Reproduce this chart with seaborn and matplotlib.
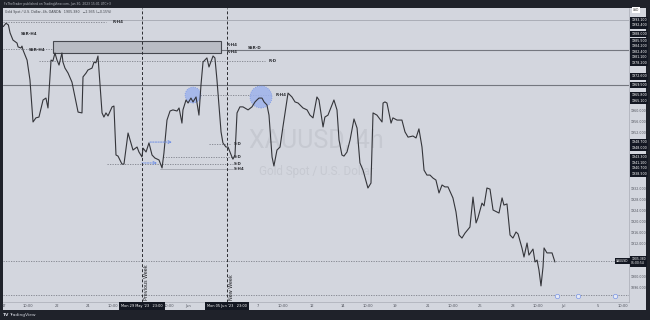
import matplotlib
matplotlib.use("Agg")
import matplotlib.pyplot as plt
import matplotlib.transforms as mtransforms
from matplotlib.patches import Rectangle
import seaborn as sns

# ---------------- data ----------------
# x: trading-day index (Mon 15 May 2023 = 0), y: XAUUSD price (4h close line)
day = [1.84, 2.00, 2.14, 2.24, 2.41, 2.65, 2.71, 2.88, 2.94, 3.00, 3.24, 3.41, 3.59, 3.76, 3.94,
       4.18, 4.35, 4.47, 4.65, 4.76, 4.88, 5.00, 5.12, 5.29, 5.35, 5.47, 5.65, 5.88, 6.06, 6.24,
       6.47, 6.53, 6.71, 6.82, 7.06, 7.18, 7.29, 7.41, 7.65, 7.76, 7.88, 8.00, 8.24, 8.35, 8.47,
       8.59, 8.82, 8.94, 9.18, 9.35, 9.47, 9.71, 9.82, 10.00, 10.06, 10.24, 10.41, 10.59, 10.76,
       11.00, 11.18, 11.29, 11.47, 11.65, 11.82, 12.06, 12.18, 12.35, 12.41, 12.59, 12.71, 12.88,
       13.00, 13.18, 13.35, 13.47, 13.59, 13.82, 13.94, 14.18, 14.29, 14.41, 14.65, 14.76, 14.94,
       15.06, 15.29, 15.35, 15.47, 15.59, 15.76, 15.94, 16.24, 16.47, 16.65, 16.76, 16.88, 17.06,
       17.18, 17.35, 17.47, 17.65, 17.76, 17.94, 18.12, 18.29, 18.47, 18.59, 18.82, 19.00, 19.18,
       19.47, 19.71, 19.88, 20.06, 20.29, 20.41, 20.65, 20.76, 20.94, 21.18, 21.29, 21.47, 21.59,
       21.76, 21.88, 22.06, 22.24, 22.47, 22.65, 22.82, 23.00, 23.24, 23.29, 23.47, 23.59, 23.82,
       24.12, 24.18, 24.29, 24.41, 24.65, 24.76, 25.00, 25.18, 25.29, 25.47, 25.65, 25.94, 26.12,
       26.29, 26.47, 26.59, 26.76, 26.94, 27.12, 27.29, 27.47, 27.65, 27.82, 28.00, 28.29, 28.47,
       28.65, 28.82, 29.00, 29.29, 29.47, 29.65, 29.76, 30.00, 30.12, 30.29, 30.47, 30.65, 30.88,
       31.00, 31.18, 31.29, 31.47, 31.65, 31.82, 32.00, 32.12, 32.35, 32.47, 32.65, 32.76, 33.00,
       33.12, 33.24, 33.35, 33.47, 33.59, 33.65, 33.82, 33.94, 34.12, 34.29]
price = [1990.7, 1991.9, 1991.3, 1988.4, 1985.8, 1984.7, 1983.3, 1982.9, 1983.6, 1982.2, 1978.5,
         1971.3, 1956.0, 1957.5, 1957.8, 1964.0, 1964.7, 1961.1, 1978.5, 1978.2, 1981.1, 1978.5,
         1976.7, 1981.1, 1977.8, 1975.6, 1973.8, 1970.5, 1965.1, 1959.6, 1959.3, 1972.4, 1973.8,
         1974.9, 1975.6, 1977.8, 1977.5, 1980.0, 1959.3, 1957.8, 1959.3, 1958.2, 1961.5, 1961.8,
         1944.0, 1943.6, 1940.7, 1940.7, 1952.0, 1948.4, 1945.8, 1946.9, 1945.1, 1943.3, 1946.5,
         1945.1, 1948.4, 1944.0, 1942.9, 1942.2, 1939.3, 1944.7, 1956.7, 1960.0, 1960.4, 1960.0,
         1961.1, 1955.6, 1960.4, 1964.0, 1962.9, 1964.7, 1963.3, 1965.1, 1958.5, 1969.5, 1977.8,
         1979.3, 1976.0, 1980.0, 1979.3, 1971.3, 1952.4, 1948.4, 1946.9, 1946.9, 1943.3, 1942.5,
         1944.0, 1959.3, 1961.5, 1961.5, 1960.4, 1961.5, 1963.3, 1964.0, 1964.7, 1964.7, 1963.3,
         1962.2, 1958.5, 1943.3, 1940.0, 1945.8, 1946.9, 1954.2, 1961.5, 1966.5, 1965.1, 1963.3,
         1962.9, 1961.1, 1960.4, 1958.5, 1957.5, 1965.1, 1964.0, 1954.2, 1957.8, 1958.5, 1962.2,
         1964.0, 1960.4, 1949.5, 1944.0, 1943.6, 1945.1, 1949.5, 1957.1, 1953.8, 1941.1, 1938.5,
         1933.1, 1932.0, 1933.8, 1959.3, 1958.5, 1956.0, 1962.9, 1963.3, 1962.9, 1955.6, 1957.5,
         1956.7, 1956.7, 1956.7, 1952.4, 1950.5, 1950.9, 1950.2, 1953.5, 1946.9, 1938.5, 1936.7,
         1936.7, 1935.6, 1934.9, 1930.2, 1933.1, 1932.4, 1932.4, 1928.4, 1923.3, 1914.9, 1913.8,
         1915.6, 1917.8, 1928.7, 1919.3, 1921.1, 1926.5, 1925.5, 1932.0, 1931.6, 1924.0, 1923.3,
         1922.9, 1928.4, 1925.8, 1926.2, 1914.9, 1913.8, 1916.0, 1915.3, 1910.2, 1906.9, 1912.0,
         1907.6, 1909.8, 1905.1, 1905.8, 1902.2, 1896.4, 1903.3, 1910.2, 1908.4, 1908.4, 1908.4,
         1905.1]

x_range = [1.824, 38.647]
y_range = [1890.55, 1997.45]

time_tick_days = [1.85, 3.3, 5.0, 6.8, 8.3, 11.6, 12.7, 16.8, 18.3, 20.0, 21.8, 23.3, 24.9,
                  26.8, 28.3, 29.9, 31.8, 33.3, 34.8, 36.8, 38.3]
time_tick_labels = ["17", "10:00", "22", "24", "10:00", "10:00", "Jun", "7", "10:00", "12", "14",
                    "10:00", "19", "21", "10:00", "26", "28", "10:00", "Jul", "5", "10:00"]
week_days = [10.0, 15.0]
week_texts = ["Previous Week", "New Week"]
week_dates = ["Mon 29 May '23   23:00", "Mon 05 Jun '23   23:00"]

price_ticks = [1896, 1900, 1904, 1908, 1912, 1916, 1920, 1924, 1928, 1932, 1936, 1940, 1944,
               1948, 1952, 1956, 1960, 1964, 1968, 1972, 1976, 1980, 1984, 1988, 1992]

# horizontal levels: price, start day, end day
level_price = [1993.1, 1992.4, 1982.4, 1982.2, 1978.2, 1969.5, 1965.8, 1948.0, 1943.3, 1940.7,
               1938.9, 1905.38, 1893.1]
level_start = [1.82, 1.82, 1.82, 14.65, 3.94, 1.82, 13.4, 13.94, 11.24, 7.94, 11.06, 1.82, 1.82]
level_end = [38.65, 7.9, 14.65, 38.65, 17.25, 38.65, 17.6, 15.2, 15.35, 15.35, 15.35, 38.65, 38.65]
level_kind = ["faint", "dot", "dot", "solid", "dot", "solid", "dot", "dot", "dot", "dot",
              "faint", "dot", "dot"]

label_text = ["R-H4", "SSR-H4", "SSR-H4", "R-H4", "R-H4", "SSR-D", "R-D", "R-H4",
              "S-D", "S-D", "S-D", "S-H4"]
label_day = [8.25, 2.88, 3.35, 14.95, 14.95, 16.2, 17.45, 17.85, 15.4, 15.4, 15.4, 15.4]
label_price = [1992.4, 1988.0, 1982.2, 1984.0, 1981.4, 1982.8, 1978.2, 1965.8,
               1948.0, 1943.3, 1940.7, 1938.9]

zone_days = [4.76, 14.65]
zone_prices = [1981.1, 1985.5]

circle_day = [13.0, 17.0]
circle_price = [1965.8, 1965.1]

arrow_start = [10.47, 10.0]
arrow_end = [11.76, 10.88]
arrow_price = [1948.7, 1941.1]

axis_box_prices = [1993.1, 1992.4, 1988.0, 1985.5, 1984.2, 1982.4, 1981.1, 1978.2, 1972.6,
                   1969.5, 1965.8, 1965.1, 1948.7, 1948.0, 1943.3, 1941.1, 1940.7, 1938.9]
last_price = 1905.38
event_days = [34.4, 35.65, 37.8]
event_price = 1892.9

# ---------------- style ----------------
sns.set_theme(style="white")
plt.rcParams['font.family'] = ['DejaVu Sans']
BG = "#d3d6de"
FRAME = "#1f222a"

fig = plt.figure(figsize=(6.5, 3.2), dpi=100, facecolor=FRAME)
W, H = 650, 320
panel = fig.add_axes([3 / W, 10 / H, 643 / W, 302 / H])
panel.set_facecolor(BG)
panel.set_xticks([]); panel.set_yticks([])
for s in panel.spines.values():
    s.set_visible(False)

ax = fig.add_axes([3 / W, (H - 302) / H, 626 / W, 294 / H])
ax.set_facecolor(BG)

sns.lineplot(x=day, y=price, ax=ax, color="#34353a", linewidth=0.8,
             estimator=None, sort=False, zorder=4)

ax.set_xlim(*x_range)
ax.set_ylim(*y_range)

for s in ["left", "top"]:
    ax.spines[s].set_visible(False)
for s in ["right", "bottom"]:
    ax.spines[s].set_color("#a9acb5")
    ax.spines[s].set_linewidth(0.5)

# stack price-axis boxes like the platform does (no overlap)
step = 2.0  # price units between stacked labels (~5.5 px)
stacked = []
for p in sorted(axis_box_prices, reverse=True):
    if stacked and stacked[-1] - p < step:
        p = stacked[-1] - step
    stacked.append(p)
occupied = stacked + [last_price, last_price + 1.2, last_price - 1.2]
shown_ticks = [t for t in price_ticks if all(abs(t - q) >= 1.9 for q in occupied)]

ax.set_xticks(time_tick_days)
ax.set_xticklabels(time_tick_labels)
ax.tick_params(axis="x", labelsize=2.6, colors="#50535c", length=0, pad=1.6)
ax.yaxis.tick_right()
ax.set_yticks(shown_ticks)
ax.set_yticklabels([f"{p:.3f}" for p in shown_ticks])
ax.tick_params(axis="y", labelsize=2.3, colors="#50535c", length=0, pad=1.4)
ax.set_xlabel(""); ax.set_ylabel("")

# levels
kind_style = {
    "faint": dict(color="#a4a7b0", lw=0.6, ls="-"),
    "dot": dict(color="#7d8089", lw=0.6, ls=(0, (1.5, 1.5))),
    "solid": dict(color="#74777f", lw=0.8, ls="-"),
}
for p, a, b, k in zip(level_price, level_start, level_end, level_kind):
    ax.plot([a, b], [p, p], zorder=2, **kind_style[k])

for t, d, p in zip(label_text, label_day, label_price):
    ax.text(d, p, t, fontsize=2.9, color="#2c2e33", ha="left", va="center",
            fontweight="bold", zorder=6)

# zone box
ax.add_patch(Rectangle((zone_days[0], zone_prices[0]), zone_days[1] - zone_days[0],
                       zone_prices[1] - zone_prices[0], facecolor="#b9bcc4",
                       edgecolor="#46484f", linewidth=0.8, zorder=3))

# blue circles
ax.scatter(circle_day, circle_price, s=[130, 250], facecolor="#9fb3ec",
           edgecolor="#6d8de3", linewidth=0.6, linestyle=":", alpha=0.85, zorder=3)

# blue arrows
for a, b, p in zip(arrow_start, arrow_end, arrow_price):
    ax.annotate("", xy=(b, p), xytext=(a, p),
                arrowprops=dict(arrowstyle="->", color="#6f8fe4", lw=0.7,
                                linestyle=(0, (1.5, 1.2)), shrinkA=0, shrinkB=0,
                                mutation_scale=5), zorder=5)

# week separators
trans_xa = mtransforms.blended_transform_factory(ax.transData, ax.transAxes)
for d, t, lab in zip(week_days, week_texts, week_dates):
    ax.axvline(d, color="#2a2b30", lw=0.7, ls=(0, (3, 2.2)), zorder=5)
    ax.text(d + 0.1, 0.008, t, rotation=90, ha="left", va="bottom", fontsize=3.5,
            color="#1e1f23", transform=trans_xa, zorder=6)
    ax.text(d, -0.0125, lab, ha="center", va="center", fontsize=2.5, color="white",
            transform=trans_xa, clip_on=False, zorder=7,
            bbox=dict(boxstyle="square,pad=0.55", fc="#131722", ec="none"))

# event icons
ax.scatter(event_days, [event_price] * len(event_days), s=10, facecolor="#e6eaf5",
           edgecolor="#7b97e6", linewidth=0.5, zorder=6)

# watermark
ax.text(0.5, 0.548, "XAUUSD, 4h", transform=ax.transAxes, ha="center", va="center",
        fontsize=18, color="#c6c9d1", family="Roboto", zorder=1)
ax.text(0.5, 0.443, "Gold Spot / U.S. Dollar", transform=ax.transAxes, ha="center",
        va="center", fontsize=8.4, color="#c6c9d1", family="Roboto", zorder=1)

# price-axis labels for levels
trans_ay = mtransforms.blended_transform_factory(ax.transAxes, ax.transData)
for p_true, p_pos in zip(sorted(axis_box_prices, reverse=True), stacked):
    ax.text(1.0035, p_pos, f"{p_true:.3f}", transform=trans_ay, fontsize=2.3, color="white",
            ha="left", va="center", clip_on=False, zorder=7,
            bbox=dict(boxstyle="square,pad=0.4", fc="#131722", ec="none"))
ax.text(1.0035, last_price, f"{last_price:.3f}\n01:00:54", transform=trans_ay, fontsize=2.2,
        color="white", ha="left", va="center", clip_on=False, zorder=7, linespacing=1.1,
        bbox=dict(boxstyle="square,pad=0.4", fc="#131722", ec="none"))
ax.text(0.999, last_price, "XAUUSD", transform=trans_ay, fontsize=2.2, color="white",
        ha="right", va="center", zorder=7,
        bbox=dict(boxstyle="square,pad=0.4", fc="#131722", ec="none"))
ax.text(1.006, 1.0 - 2.0 / 294, "USD", transform=ax.transAxes, fontsize=2.2, color="#333",
        ha="left", va="center", clip_on=False, zorder=7,
        bbox=dict(boxstyle="square,pad=0.35", fc="white", ec="none"))

# header texts
ax.text(0.003, 1.0 - 3.5 / 294, "Gold Spot / U.S. Dollar, 4h, OANDA   1905.380   \u22122.935 (\u22120.15%)",
        transform=ax.transAxes, fontsize=2.3, color="#3d4047", ha="left", va="center")
fig.text(4 / W, 1 - 3.6 / H, "FxTheTrader published on TradingView.com, Jun 30, 2023 15:01 UTC+3",
         fontsize=2.2, color="#b5b8c0", ha="left", va="center")
fig.text(3 / W, 1 - 315 / H, "TV", fontsize=3.2, color="#d1d4dc", ha="left", va="center",
         fontweight="bold")
fig.text(9.5 / W, 1 - 315 / H, "TradingView", fontsize=3.2, color="#d1d4dc", ha="left",
         va="center")

fig.savefig("out.png", dpi=100, facecolor=FRAME)
